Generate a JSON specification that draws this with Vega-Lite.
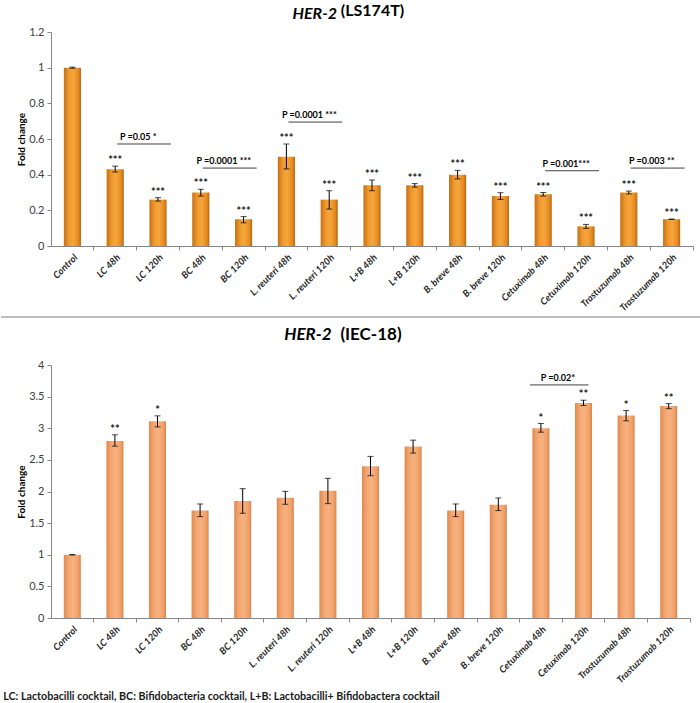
{
  "$schema": "https://vega.github.io/schema/vega-lite/v6.json",
  "background": "white",
  "padding": {"left": 0, "right": 0, "top": 2, "bottom": 0},
  "autosize": {"type": "pad"},
  "bounds": "flush",
  "spacing": 48,
  "title": {
    "text": "LC: Lactobacilli cocktail, BC: Bifidobacteria cocktail, L+B: Lactobacilli+ Bifidobactera cocktail",
    "orient": "bottom", "anchor": "start", "frame": "bounds",
    "font": "Lato", "fontSize": 10.7, "fontWeight": "bold", "color": "#1a1a1a",
    "offset": 8, "dx": 3
  },
  "config": {
    "view": {"stroke": null},
    "font": "Lato"
  },
  "datasets": {
    "ls": [
      {"group": "Control", "fold": 1.0, "lo": 0.997, "hi": 1.003, "sig": ""},
      {"group": "LC 48h", "fold": 0.43, "lo": 0.415, "hi": 0.448, "sig": "***"},
      {"group": "LC 120h", "fold": 0.26, "lo": 0.252, "hi": 0.271, "sig": "***"},
      {"group": "BC 48h", "fold": 0.30, "lo": 0.280, "hi": 0.318, "sig": "***"},
      {"group": "BC 120h", "fold": 0.15, "lo": 0.130, "hi": 0.165, "sig": "***"},
      {"group": "L. reuteri 48h", "fold": 0.50, "lo": 0.432, "hi": 0.572, "sig": "***"},
      {"group": "L. reuteri 120h", "fold": 0.26, "lo": 0.207, "hi": 0.310, "sig": "***"},
      {"group": "L+B 48h", "fold": 0.34, "lo": 0.31, "hi": 0.37, "sig": "***"},
      {"group": "L+B 120h", "fold": 0.34, "lo": 0.33, "hi": 0.35, "sig": "***"},
      {"group": "B. breve 48h", "fold": 0.40, "lo": 0.376, "hi": 0.424, "sig": "***"},
      {"group": "B. breve 120h", "fold": 0.28, "lo": 0.261, "hi": 0.299, "sig": "***"},
      {"group": "Cetuximab 48h", "fold": 0.29, "lo": 0.28, "hi": 0.30, "sig": "***"},
      {"group": "Cetuximab 120h", "fold": 0.11, "lo": 0.099, "hi": 0.121, "sig": "***"},
      {"group": "Trastuzumab 48h", "fold": 0.30, "lo": 0.292, "hi": 0.308, "sig": "***"},
      {"group": "Trastuzumab 120h", "fold": 0.15, "lo": 0.149, "hi": 0.151, "sig": "***"}
    ],
    "iec": [
      {"group": "Control", "fold": 1.0, "lo": 0.995, "hi": 1.005, "sig": ""},
      {"group": "LC 48h", "fold": 2.80, "lo": 2.717, "hi": 2.896, "sig": "**"},
      {"group": "LC 120h", "fold": 3.11, "lo": 3.022, "hi": 3.196, "sig": "*"},
      {"group": "BC 48h", "fold": 1.70, "lo": 1.603, "hi": 1.803, "sig": ""},
      {"group": "BC 120h", "fold": 1.85, "lo": 1.656, "hi": 2.045, "sig": ""},
      {"group": "L. reuteri 48h", "fold": 1.90, "lo": 1.798, "hi": 2.003, "sig": ""},
      {"group": "L. reuteri 120h", "fold": 2.01, "lo": 1.808, "hi": 2.208, "sig": ""},
      {"group": "L+B 48h", "fold": 2.40, "lo": 2.250, "hi": 2.555, "sig": ""},
      {"group": "L+B 120h", "fold": 2.71, "lo": 2.607, "hi": 2.812, "sig": ""},
      {"group": "B. breve 48h", "fold": 1.70, "lo": 1.603, "hi": 1.803, "sig": ""},
      {"group": "B. breve 120h", "fold": 1.79, "lo": 1.698, "hi": 1.898, "sig": ""},
      {"group": "Cetuximab 48h", "fold": 3.00, "lo": 2.938, "hi": 3.075, "sig": "*"},
      {"group": "Cetuximab 120h", "fold": 3.40, "lo": 3.359, "hi": 3.443, "sig": "**"},
      {"group": "Trastuzumab 48h", "fold": 3.20, "lo": 3.117, "hi": 3.280, "sig": "*"},
      {"group": "Trastuzumab 120h", "fold": 3.35, "lo": 3.310, "hi": 3.390, "sig": "**"}
    ],
    "lsp": [
      {"from": "LC 48h", "to": "LC 120h", "level": 0.572, "label": "P =0.05 *"},
      {"from": "BC 48h", "to": "BC 120h", "level": 0.437, "label": "P =0.0001 ***"},
      {"from": "L. reuteri 48h", "to": "L. reuteri 120h", "level": 0.695, "label": "P =0.0001 ***"},
      {"from": "Cetuximab 48h", "to": "Cetuximab 120h", "level": 0.422, "label": "P =0.001***"},
      {"from": "Trastuzumab 48h", "to": "Trastuzumab 120h", "level": 0.437, "label": "P =0.003 **"}
    ],
    "iecp": [
      {"from": "Cetuximab 48h", "to": "Cetuximab 120h", "level": 3.685, "label": "P =0.02*"}
    ]
  },
  "vconcat": [
    {
      "width": 642,
      "height": 214,
      "title": {
        "text": "HER-2",
        "anchor": "middle", "frame": "group", "align": "right", "baseline": "bottom",
        "font": "Lato", "fontSize": 16, "fontWeight": "bold", "fontStyle": "italic", "color": "#000000",
        "offset": -17, "dx": -35, "dy": 19
      },
      "resolve": {"axis": {"x": "independent"}},
      "encoding": {
        "y": {
          "field": "fold", "type": "quantitative", "title": "Fold change",
          "scale": {"domain": [0, 1.2], "nice": false},
          "axis": {
            "values": [0, 0.2, 0.4, 0.6, 0.8, 1, 1.2], "format": "~g", "grid": false,
            "labelFont": "Lato", "labelFontSize": 11, "labelColor": "#404040", "labelPadding": 3,
            "titleFont": "Lato", "titleFontSize": 10, "titleFontWeight": "bold", "titleColor": "#000000", "titlePadding": 2,
            "tickSize": 4, "tickColor": "#868686", "domainColor": "#868686"
          }
        }
      },
      "layer": [
        {
          "data": {"name": "ls"},
          "mark": {"type": "bar", "color": {"gradient": "linear", "x1": 0, "y1": 0, "x2": 1, "y2": 0, "stops": [{"offset": 0, "color": "#c46f16"}, {"offset": 0.3, "color": "#f09a2e"}, {"offset": 0.55, "color": "#f5a63c"}, {"offset": 0.85, "color": "#e48a20"}, {"offset": 1, "color": "#b5640f"}]}},
          "encoding": {
            "x": {
              "field": "group", "type": "nominal", "title": null,
              "scale": {"domain": ["Control", "LC 48h", "LC 120h", "BC 48h", "BC 120h", "L. reuteri 48h", "L. reuteri 120h", "L+B 48h", "L+B 120h", "B. breve 48h", "B. breve 120h", "Cetuximab 48h", "Cetuximab 120h", "Trastuzumab 48h", "Trastuzumab 120h"], "paddingInner": 0.6, "paddingOuter": 0.3},
              "axis": {
                "labelAngle": -45, "labelAlign": "right", "labelBaseline": "top",
                "labelFont": "Lato", "labelFontSize": 9.5, "labelFontWeight": "bold", "labelFontStyle": "italic", "labelColor": "#262626",
                "labelPadding": 2, "labelOverlap": false, "labelLimit": 200,
                "tickSize": 4, "tickColor": "#868686", "domainColor": "#868686", "bandPosition": 1.75
              }
            }
          }
        },
        {
          "data": {"name": "ls"},
          "mark": {"type": "rule", "color": "#000000", "strokeWidth": 1},
          "encoding": {"x": {"field": "group", "type": "nominal", "title": null, "axis": null}, "y": {"field": "lo", "type": "quantitative", "title": "Fold change"}, "y2": {"field": "hi"}}
        },
        {
          "data": {"name": "ls"},
          "mark": {"type": "tick", "color": "#000000", "size": 6, "thickness": 1, "orient": "horizontal"},
          "encoding": {"x": {"field": "group", "type": "nominal", "title": null, "axis": null}, "y": {"field": "lo", "type": "quantitative", "title": "Fold change"}}
        },
        {
          "data": {"name": "ls"},
          "mark": {"type": "tick", "color": "#000000", "size": 6, "thickness": 1, "orient": "horizontal"},
          "encoding": {"x": {"field": "group", "type": "nominal", "title": null, "axis": null}, "y": {"field": "hi", "type": "quantitative", "title": "Fold change"}}
        },
        {
          "data": {"name": "ls"},
          "mark": {"type": "text", "font": "Lato", "fontSize": 11, "fontWeight": "bold", "color": "#1a1a1a", "baseline": "alphabetic", "dy": -2},
          "encoding": {"x": {"field": "group", "type": "nominal", "title": null, "axis": null}, "y": {"field": "hi", "type": "quantitative", "title": "Fold change"}, "text": {"field": "sig"}}
        },
        {
          "data": {"name": "lsp"},
          "mark": {"type": "rule", "color": "#404040", "strokeWidth": 1, "xOffset": 2, "x2Offset": 13},
          "encoding": {
            "x": {"field": "from", "type": "nominal", "title": "(LS174T)",
              "axis": {"orient": "top", "labels": false, "ticks": false, "domain": false, "grid": false,
                "titleFont": "Lato", "titleFontSize": 16, "titleFontWeight": "bold", "titleColor": "#000000",
                "titleAnchor": "middle", "titleAlign": "center", "titleBaseline": "bottom", "titlePadding": 14}},
            "x2": {"field": "to"},
            "y": {"field": "level", "type": "quantitative", "title": "Fold change"}
          }
        },
        {
          "data": {"name": "lsp"},
          "mark": {"type": "text", "font": "Lato", "fontSize": 9, "fontWeight": "bold", "color": "#000000", "align": "center", "baseline": "alphabetic", "dy": -4, "xOffset": 23},
          "encoding": {"x": {"field": "from", "type": "nominal", "title": null, "axis": null}, "y": {"field": "level", "type": "quantitative", "title": "Fold change"}, "text": {"field": "label"}}
        }
      ]
    },
    {
      "width": 700,
      "height": 23,
      "data": {"values": [{"line": "separator"}]},
      "mark": {"type": "rule", "color": "#a6a6a6", "strokeWidth": 1.5, "xOffset": -50, "x2Offset": -50},
      "encoding": {
        "x": {"datum": 0, "type": "quantitative", "scale": {"domain": [0, 1]}, "axis": null},
        "x2": {"datum": 1},
        "y": {"datum": 0, "type": "quantitative", "scale": {"domain": [0, 1]}, "axis": null}
      }
    },
    {
      "width": 639,
      "height": 253,
      "title": {
        "text": "HER-2",
        "anchor": "middle", "frame": "group", "align": "right", "baseline": "bottom",
        "font": "Lato", "fontSize": 17, "fontWeight": "bold", "fontStyle": "italic", "color": "#000000",
        "offset": -17, "dx": -39, "dy": 19
      },
      "resolve": {"axis": {"x": "independent"}},
      "encoding": {
        "y": {
          "field": "fold", "type": "quantitative", "title": "Fold change",
          "scale": {"domain": [0, 4], "nice": false},
          "axis": {
            "values": [0, 0.5, 1, 1.5, 2, 2.5, 3, 3.5, 4], "format": "~g", "grid": false,
            "labelFont": "Lato", "labelFontSize": 11, "labelColor": "#404040", "labelPadding": 3,
            "titleFont": "Lato", "titleFontSize": 10, "titleFontWeight": "bold", "titleColor": "#000000", "titlePadding": 2,
            "tickSize": 4, "tickColor": "#868686", "domainColor": "#868686"
          }
        }
      },
      "layer": [
        {
          "data": {"name": "iec"},
          "mark": {"type": "bar", "color": {"gradient": "linear", "x1": 0, "y1": 0, "x2": 1, "y2": 0, "stops": [{"offset": 0, "color": "#e08a52"}, {"offset": 0.3, "color": "#f4a873"}, {"offset": 0.55, "color": "#f7b27f"}, {"offset": 0.85, "color": "#f0a067"}, {"offset": 1, "color": "#d9834c"}]}},
          "encoding": {
            "x": {
              "field": "group", "type": "nominal", "title": null,
              "scale": {"domain": ["Control", "LC 48h", "LC 120h", "BC 48h", "BC 120h", "L. reuteri 48h", "L. reuteri 120h", "L+B 48h", "L+B 120h", "B. breve 48h", "B. breve 120h", "Cetuximab 48h", "Cetuximab 120h", "Trastuzumab 48h", "Trastuzumab 120h"], "paddingInner": 0.6, "paddingOuter": 0.3},
              "axis": {
                "labelAngle": -45, "labelAlign": "right", "labelBaseline": "top",
                "labelFont": "Lato", "labelFontSize": 9.5, "labelFontWeight": "bold", "labelFontStyle": "italic", "labelColor": "#262626",
                "labelPadding": 2, "labelOverlap": false, "labelLimit": 200,
                "tickSize": 4, "tickColor": "#868686", "domainColor": "#868686", "bandPosition": 1.75
              }
            }
          }
        },
        {
          "data": {"name": "iec"},
          "mark": {"type": "rule", "color": "#000000", "strokeWidth": 1},
          "encoding": {"x": {"field": "group", "type": "nominal", "title": null, "axis": null}, "y": {"field": "lo", "type": "quantitative", "title": "Fold change"}, "y2": {"field": "hi"}}
        },
        {
          "data": {"name": "iec"},
          "mark": {"type": "tick", "color": "#000000", "size": 6, "thickness": 1, "orient": "horizontal"},
          "encoding": {"x": {"field": "group", "type": "nominal", "title": null, "axis": null}, "y": {"field": "lo", "type": "quantitative", "title": "Fold change"}}
        },
        {
          "data": {"name": "iec"},
          "mark": {"type": "tick", "color": "#000000", "size": 6, "thickness": 1, "orient": "horizontal"},
          "encoding": {"x": {"field": "group", "type": "nominal", "title": null, "axis": null}, "y": {"field": "hi", "type": "quantitative", "title": "Fold change"}}
        },
        {
          "data": {"name": "iec"},
          "mark": {"type": "text", "font": "Lato", "fontSize": 11, "fontWeight": "bold", "color": "#1a1a1a", "baseline": "alphabetic", "dy": -2},
          "encoding": {"x": {"field": "group", "type": "nominal", "title": null, "axis": null}, "y": {"field": "hi", "type": "quantitative", "title": "Fold change"}, "text": {"field": "sig"}}
        },
        {
          "data": {"name": "iecp"},
          "mark": {"type": "rule", "color": "#404040", "strokeWidth": 1, "xOffset": -11, "x2Offset": 5},
          "encoding": {
            "x": {"field": "from", "type": "nominal", "title": "(IEC-18)",
              "axis": {"orient": "top", "labels": false, "ticks": false, "domain": false, "grid": false,
                "titleFont": "Lato", "titleFontSize": 17, "titleFontWeight": "bold", "titleColor": "#000000",
                "titleAnchor": "middle", "titleAlign": "center", "titleBaseline": "bottom", "titlePadding": 22}},
            "x2": {"field": "to"},
            "y": {"field": "level", "type": "quantitative", "title": "Fold change"}
          }
        },
        {
          "data": {"name": "iecp"},
          "mark": {"type": "text", "font": "Lato", "fontSize": 9, "fontWeight": "bold", "color": "#000000", "align": "center", "baseline": "alphabetic", "dy": -4, "xOffset": 17},
          "encoding": {"x": {"field": "from", "type": "nominal", "title": null, "axis": null}, "y": {"field": "level", "type": "quantitative", "title": "Fold change"}, "text": {"field": "label"}}
        }
      ]
    }
  ]
}
